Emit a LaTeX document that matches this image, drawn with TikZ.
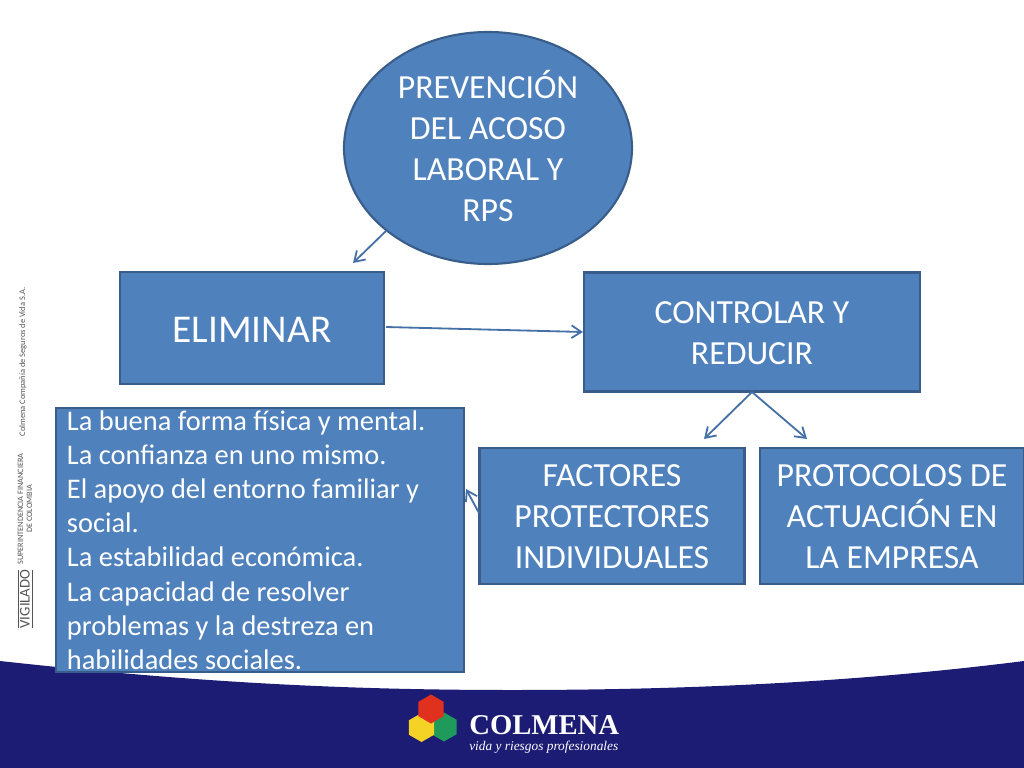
\documentclass[tikz,border=0pt]{standalone}
\usepackage{fontspec}
\setmainfont{Carlito}
\newfontfamily\logofont{Liberation Serif}
\usetikzlibrary{positioning}
\usetikzlibrary{shapes.geometric}
\usetikzlibrary{arrows.meta}
\definecolor{boxblue}{HTML}{4F81BD}
\definecolor{boxline}{HTML}{385D8A}
\definecolor{bandblue}{HTML}{1C1C74}
\definecolor{sidegray}{HTML}{555555}
\definecolor{hexgreen}{HTML}{1F9A5A}
\definecolor{hexyellow}{HTML}{F5D326}
\definecolor{hexred}{HTML}{E0301E}
\newcommand\bajar[1]{\rule{0pt}{#1}}
\tikzset{
  boxnode/.style={draw=boxline, line width=1.5pt, fill=boxblue, text=white, align=center, inner sep=0pt, minimum width=#1},
  linkline/.style={draw=boxline!45!boxblue, line width=1.3pt, -{Straight Barb[length=7pt,width=9pt]}},
  sidetext/.style={rotate=90, text=sidegray, align=center, inner sep=0pt},
  hexcell/.style={regular polygon, regular polygon sides=6, minimum size=29*0.025cm, inner sep=0pt}
}
\begin{document}
\begin{tikzpicture}[x=0.025cm, y=-0.025cm]
	\useasboundingbox (0,0) rectangle (1024,768);
	% bottom band
	\fill[bandblue] (0,661) .. controls (200,683) and (350,690) .. (512,690) .. controls (680,690) and (850,683) .. (1024,661) -- (1024,768) -- (0,768) -- cycle;
	% shapes
	\node[ellipse, boxnode=288*0.025cm, minimum height=232*0.025cm, font=\fontsize{24}{29.2}\selectfont] (prevencion) at (488,148) {PREVENCIÓN\\DEL ACOSO\\LABORAL Y\\RPS\rule[-2.8pt]{0pt}{1pt}};
	\node[boxnode=264*0.025cm, minimum height=112*0.025cm, font=\fontsize{28}{33}\selectfont] (eliminar) at (252,328) {\bajar{20.8pt}ELIMINAR};
	\node[boxnode=336*0.025cm, minimum height=119*0.025cm, font=\fontsize{24}{29.2}\selectfont] (controlar) at (752,332) {\bajar{17pt}CONTROLAR Y\\REDUCIR};
	\node[boxnode=265*0.025cm, minimum height=136*0.025cm, font=\fontsize{24}{29.2}\selectfont] (factores) at (612,516) {\bajar{17pt}FACTORES\\PROTECTORES\\INDIVIDUALES};
	\node[boxnode=264*0.025cm, minimum height=136*0.025cm, font=\fontsize{24}{29.2}\selectfont] (protocolos) at (892,516) {\bajar{17pt}PROTOCOLOS DE\\ACTUACIÓN EN\\LA EMPRESA};
	\node[boxnode=408*0.025cm, minimum height=264*0.025cm, font=\fontsize{20.2}{24.3}\selectfont] (lista) at (260,540) {\begin{minipage}{9.65cm}\raggedright La buena forma física y mental.\\La confianza en uno mismo.\\El apoyo del entorno familiar y social.\\La estabilidad económica.\\La capacidad de resolver problemas y la destreza en habilidades sociales.\end{minipage}};
	% free ends
	\coordinate (finEliminar) at (353,263);
	\coordinate (inicioPrev) at (386,231);
	\coordinate (inicioElim) at (386,327);
	\coordinate (finControlar) at (583,332);
	\coordinate (inicioContr) at (752,392);
	\coordinate (finFactores) at (704,439);
	\coordinate (finProtocolos) at (807,439);
	\coordinate (inicioFact) at (479,513);
	\coordinate (finLista) at (466,489);
	% connectors
	\draw[linkline] (inicioPrev) -- (finEliminar);
	\draw[linkline] (inicioElim) -- (finControlar);
	\draw[linkline] (inicioContr) -- (finFactores);
	\draw[linkline] (inicioContr) -- (finProtocolos);
	\draw[linkline] (inicioFact) -- (finLista);
	% side text
	\node[sidetext, font=\fontsize{6}{7}\selectfont] (colmenaSa) at (23,362) {Colmena Compañía de Seguros de Vida S.A.};
	\node[sidetext, font=\fontsize{5.85}{6.4}\selectfont] (superintendencia) at (25,509) {SUPERINTENDENCIA FINANCIERA\\DE COLOMBIA};
	\node[sidetext, font=\fontsize{10.5}{11}\selectfont] (vigilado) at (25,599) {$\overline{\underline{\mbox{VIGILADO}}}$};
	% logo
	\node[hexcell, fill=hexgreen, rotate=30] (hexVerde) at (444,727) {};
	\node[hexcell, fill=hexyellow, rotate=30] (hexAmarillo) at (421.5,727.5) {};
	\node[hexcell, fill=hexred, rotate=30] (hexRojo) at (431,709) {};
	\node[text=white, font=\logofont\bfseries\fontsize{20.4}{22}\selectfont, anchor=west, inner sep=0pt] (colmena) at (469,725) {COLMENA};
	\node[text=white, font=\logofont\itshape\fontsize{9.5}{10}\selectfont, anchor=west, inner sep=0pt] (lema) at (469,747) {vida y riesgos profesionales};
\end{tikzpicture}
\end{document}
